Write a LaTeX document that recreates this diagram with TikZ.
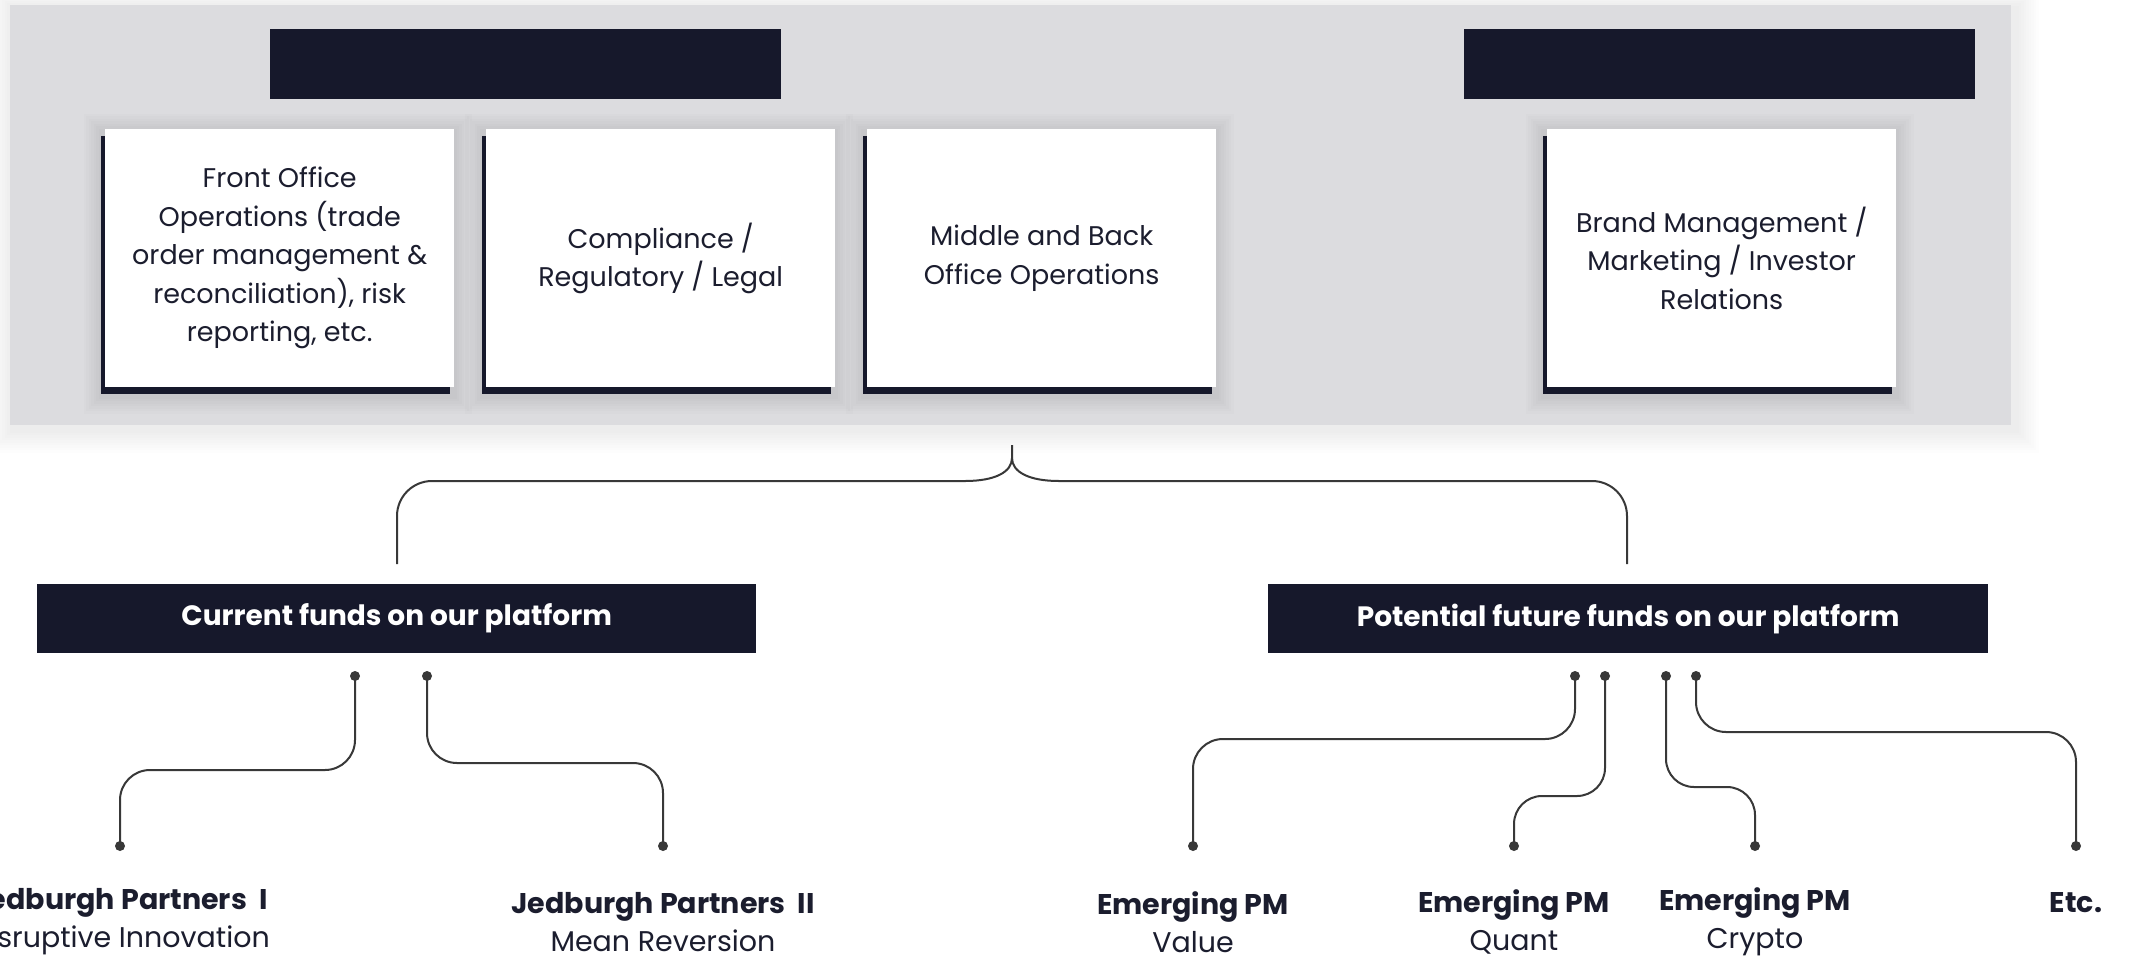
\documentclass[tikz,border=0pt]{standalone}
\usepackage{fontspec}
\setmainfont{Poppins}
\usetikzlibrary{calc,shadows}
\definecolor{navy}{HTML}{16182B}
\definecolor{panelgrey}{HTML}{DCDCDF}
\definecolor{wirecol}{HTML}{383838}
\definecolor{ink}{HTML}{1B1D2E}
\begin{document}
\begin{tikzpicture}[x=1pt,y=-1pt,
  panelbox/.style={fill=panelgrey, inner sep=0pt, anchor=north west,
    minimum width=2001pt, minimum height=420pt},
  topbar/.style={fill=navy, inner sep=0pt, anchor=north west, minimum width=511pt, minimum height=70pt},
  card/.style={fill=white, inner sep=0pt, anchor=north west, minimum width=349pt, minimum height=258pt,
    align=center, text=ink, font=\fontsize{27}{38.5}\selectfont,
    general shadow={fill=navy, shadow xshift=-4pt, shadow yshift=-7pt}},
  fundbar/.style={fill=navy, inner sep=0pt, anchor=north west, minimum height=69pt,
    text=white, font=\fontsize{28}{32}\selectfont\bfseries},
  dot/.style={circle, fill=wirecol, inner sep=0pt, minimum size=10pt},
  wire/.style={draw=wirecol, line width=2pt},
  fundlabel/.style={align=center, text=ink, font=\fontsize{28.5}{38}\selectfont},
  softshade/.style={fill=black, opacity=#1},
]
\useasboundingbox (0,0) rectangle (2131,962);
\fill[white] (0,0) rectangle (2131,962);

% soft shadow round the panel
\foreach \k in {1,...,9}
  \fill[softshade=0.009] (12-2.5*\k,8-2.5*\k) rectangle (2016+2.5*\k,430+2.5*\k);

% panel
\node[panelbox] (panel) at (10,5) {};
\node[topbar] (tb1) at (270,29) {};
\node[topbar] (tb2) at (1464,29) {};

% soft shadows round the cards
\foreach \cx in {105,486,867,1547}
  \foreach \k in {1,...,7}
    \fill[softshade=0.012] (\cx-4-2.5*\k,131-2.5*\k) rectangle (\cx+349+2.5*\k,396+2.5*\k);

\node[card] (c1) at (105,129) {Front Office\\Operations (trade\\order management \&\\reconciliation), risk\\reporting, etc.};
\node[card] (c2) at (486,129) {Compliance /\\Regulatory / Legal};
\node[card] (c3) at (867,129) {Middle and Back\\Office Operations};
\node[card] (c4) at (1547,129) {Brand Management /\\Marketing / Investor\\Relations};

% fund bars
\node[fundbar, minimum width=719pt] (cur) at (37,584) {Current funds on our platform};
\node[fundbar, minimum width=720pt] (pot) at (1268,584) {Potential future funds on our platform};

% brace
\coordinate (brL) at (397,564);
\coordinate (brR) at (1627,564);
\coordinate (brTop) at (1012,445);
\coordinate (brTip) at (1012,458);
\coordinate (brLe) at (965,481);
\coordinate (brRe) at (1059,481);
\draw[wire, rounded corners=35pt] (brL) -- (brL |- brLe) -- (brLe);
\draw[wire] (brLe) .. controls (995,481) and (1012,472) .. (brTip) -- (brTop);
\draw[wire] (brRe) .. controls (1029,481) and (1012,472) .. (brTip);
\draw[wire, rounded corners=35pt] (brRe) -- (brR |- brRe) -- (brR);

% dots
\node[dot] (a1) at (355,676) {};
\node[dot] (a2) at (427,676) {};
\node[dot] (b1) at (1575,676) {};
\node[dot] (b2) at (1605,676) {};
\node[dot] (b3) at (1666,676) {};
\node[dot] (b4) at (1696,676) {};
\node[dot] (e1) at (120,846) {};
\node[dot] (e2) at (663,846) {};
\node[dot] (f1) at (1193,846) {};
\node[dot] (f2) at (1514,846) {};
\node[dot] (f3) at (1755,846) {};
\node[dot] (f4) at (2076,846) {};

% connectors
\draw[wire, rounded corners=30pt] (a1.center) -- (a1.center |- 0,770) -- (e1.center |- 0,770) -- (e1.center);
\draw[wire, rounded corners=30pt] (a2.center) -- (a2.center |- 0,763) -- (e2.center |- 0,763) -- (e2.center);
\draw[wire, rounded corners=30pt] (b1.center) -- (b1.center |- 0,739) -- (f1.center |- 0,739) -- (f1.center);
\draw[wire, rounded corners=28pt] (b2.center) -- (b2.center |- 0,796) -- (f2.center |- 0,796) -- (f2.center);
\draw[wire, rounded corners=28pt] (b3.center) -- (b3.center |- 0,787) -- (f3.center |- 0,787) -- (f3.center);
\draw[wire, rounded corners=30pt] (b4.center) -- (b4.center |- 0,732) -- (f4.center |- 0,732) -- (f4.center);

% labels
\node[fundlabel] (l1) at (120,922) {\textbf{Jedburgh Partners\ \ I}\\Disruptive Innovation};
\node[fundlabel] (l2) at (663,922) {\textbf{Jedburgh Partners\ \ II}\\Mean Reversion};
\node[fundlabel] (m1) at (1193,922) {\textbf{Emerging PM}\\Value};
\node[fundlabel] (m2) at (1514,922) {\textbf{Emerging PM}\\Quant};
\node[fundlabel] (m3) at (1755,922) {\textbf{Emerging PM}\\Crypto};
\node[fundlabel, anchor=center] (m4) at (2076,903) {\textbf{Etc.}};
\end{tikzpicture}
\end{document}
